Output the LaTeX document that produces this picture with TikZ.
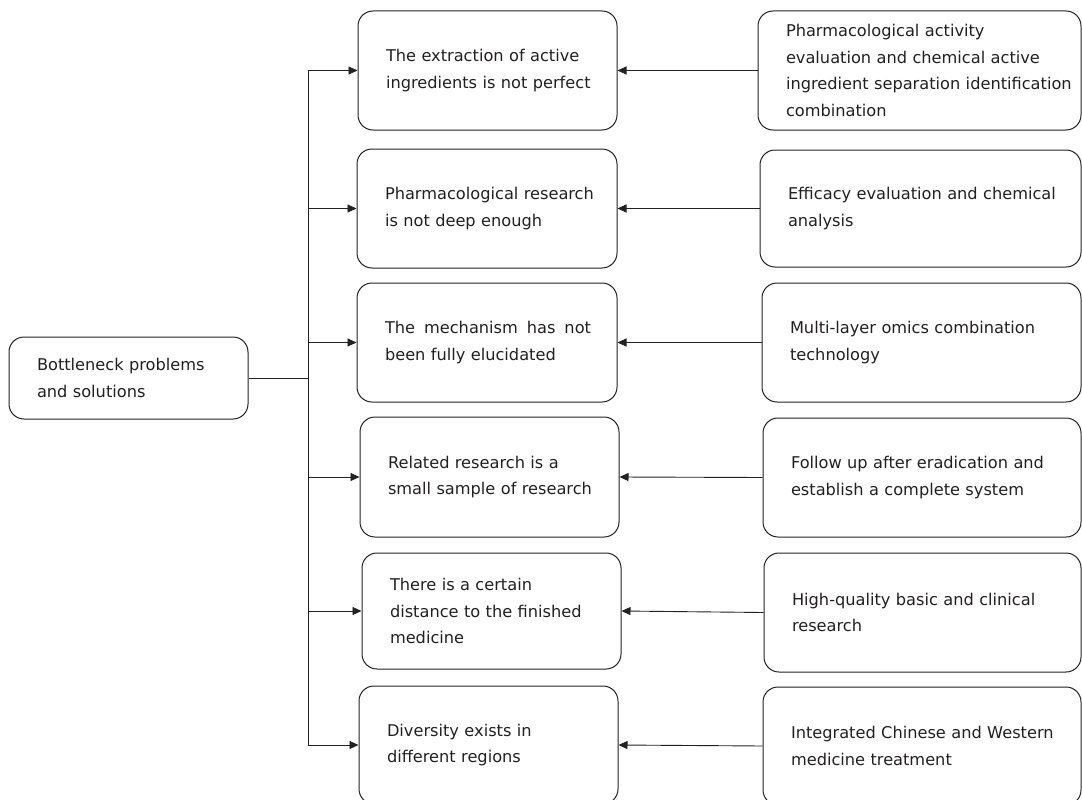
\documentclass[tikz,border=0pt]{standalone}
\usepackage{fontspec}
\setmainfont{DejaVu Sans}
\usetikzlibrary{arrows.meta}
\definecolor{txt}{HTML}{231F20}
\definecolor{ln}{HTML}{222222}
\newcommand\tl[1]{\mbox{#1}}
\begin{document}
\begin{tikzpicture}[x=1pt,y=-1pt,
  box/.style={draw=ln, line width=1pt, rounded corners=15pt, inner xsep=28pt, inner ysep=0pt,
    align=left, text=txt, font=\fontsize{16.2}{26.5}\selectfont, anchor=center},
  arr/.style={draw=ln, line width=0.9pt, -{Triangle[length=9pt,width=8pt]}},
  ln/.style={draw=ln, line width=0.9pt}]
\useasboundingbox (0,0) rectangle (1082,800);
\clip (0,0) rectangle (1082,800);
% left
\node[box, minimum width=239pt, minimum height=82pt, text width=183pt] (L) at (128.5,378)
  {\tl{Bottleneck problems}\\\tl{and solutions}};
% middle
\node[box, minimum width=259pt, minimum height=119pt, text width=203pt] (m1) at (487.5,70.5)
  {\tl{The extraction of active}\\\tl{ingredients is not perfect}\\[3pt]};
\node[box, minimum width=260pt, minimum height=119pt, text width=204pt] (m2) at (487,208.5)
  {\tl{Pharmacological research}\\\tl{is not deep enough}\\[3pt]};
\node[box, minimum width=260pt, minimum height=119pt, text width=204pt] (m3) at (487,342.5)
  {\hbox to 206pt{The\hfil\ mechanism\hfil\ has\hfil\ not}\\\tl{been fully elucidated}\\[3pt]};
\node[box, minimum width=259pt, minimum height=120pt, text width=203pt] (m4) at (489.5,477)
  {\tl{Related research is a}\\\tl{small sample of research}\\[5pt]};
\node[box, minimum width=259pt, minimum height=116pt, text width=203pt] (m5) at (491.5,611)
  {\tl{There is a certain}\\\tl{distance to the finished}\\\tl{medicine}};
\node[box, minimum width=259pt, minimum height=118pt, text width=203pt] (m6) at (488.5,745)
  {\tl{Diversity exists in}\\\tl{different regions}\\[10pt]};
% right
\node[box, minimum width=323pt, minimum height=119pt, text width=267pt] (r1) at (919.5,70.5)
  {\tl{Pharmacological activity}\\\tl{evaluation and chemical active}\\\tl{ingredient separation identification}\\\tl{combination}};
\node[box, minimum width=321pt, minimum height=117pt, text width=265pt] (r2) at (920.5,208.5)
  {\tl{Efficacy evaluation and chemical}\\\tl{analysis}\\[3pt]};
\node[box, minimum width=319pt, minimum height=119pt, text width=263pt] (r3) at (921.5,342.5)
  {\tl{Multi-layer omics combination}\\\tl{technology}\\[5pt]};
\node[box, minimum width=318pt, minimum height=119pt, text width=262pt] (r4) at (922,477.5)
  {\tl{Follow up after eradication and}\\\tl{establish a complete system}\\[5pt]};
\node[box, minimum width=317pt, minimum height=119pt, text width=261pt] (r5) at (922.5,612.5)
  {\tl{High-quality basic and clinical}\\\tl{research}\\[5pt]};
\node[box, minimum width=318pt, minimum height=118pt, text width=262pt] (r6) at (922,746)
  {\tl{Integrated Chinese and Western}\\\tl{medicine treatment}\\[10pt]};
% trunk
\coordinate (tx) at (308,0);
\draw[ln] (L.east) -- (L.east -| tx);
\draw[ln] (tx |- m1.west) -- (tx |- m6.west);
\foreach \i in {1,...,6}{
  \draw[arr] (tx |- m\i.west) -- (m\i.west);
  \draw[arr] (r\i.west) -- (m\i.east);
}
\end{tikzpicture}
\end{document}
